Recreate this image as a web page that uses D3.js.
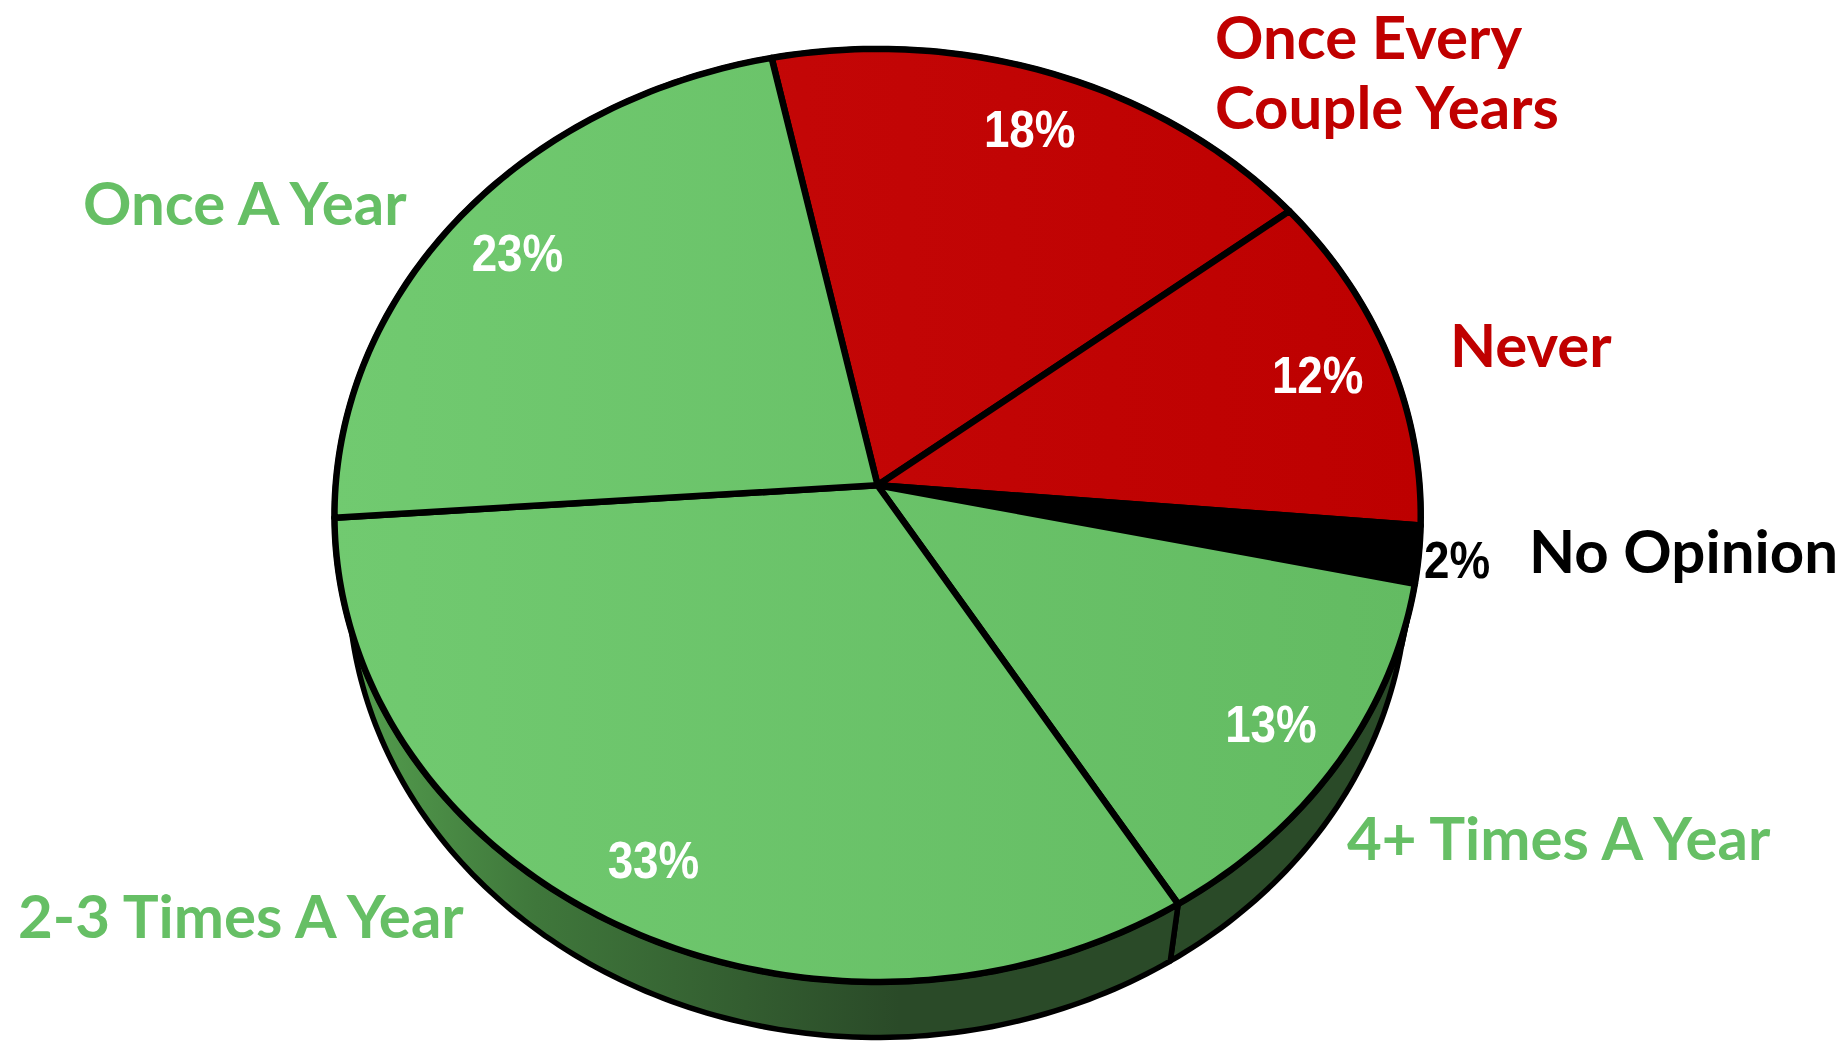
<!DOCTYPE html>
<html>
<head>
<meta charset="utf-8">
<script src="https://cdn.jsdelivr.net/npm/d3@7"></script>
<style>
  html, body { margin: 0; padding: 0; background: #fff; }
  svg { display: block; }
  .cat { font-family: Lato, "Open Sans", sans-serif; font-weight: 700; font-size: 60px; }
  .pct { font-family: "Liberation Sans", Arial, sans-serif; font-weight: 700; font-size: 52px; }
</style>
</head>
<body>
<svg id="svg" width="1847" height="1042"></svg>
<script>
// survey answers, clockwise from the top
const categories = ["Once Every Couple Years", "Never", "No Opinion", "4+ Times A Year", "2-3 Times A Year", "Once A Year"]
const values = [18, 12, 2, 13, 33, 23]
const groups = ["red", "red", "black", "green", "green", "green"]

// label text lines, same order as categories
const labelLines = [["Once Every", "Couple Years"], ["Never"], ["No Opinion"], ["4+ Times A Year"], ["2-3 Times A Year"], ["Once A Year"]]
// where the category names sit (start anchor, first baseline)
const labelAnchors = [[1215, 59], [1450, 367], [1529, 573], [1347, 860], [18, 938], [83, 225]]

const svg = d3.select("#svg")

// 3d pie geometry
const cx = 877.6, cy = 485.3      // apex of top face
const R = 542                      // radius of disk
const tilt = 31 * Math.PI / 180    // disk tilt
const depth = 4323                 // camera distance
const thick = 128                  // disk thickness
const start = -12 * Math.PI / 180

function project(theta, r, h) {
  const phi = Math.PI / 2 - theta
  const X = r * Math.cos(phi)
  const Y = r * Math.sin(phi) * Math.cos(tilt) - h * Math.sin(tilt)
  const Z = r * Math.sin(phi) * Math.sin(tilt) + h * Math.cos(tilt)
  const f = depth / (depth + Z)
  return [cx + X * f, cy - Y * f]
}

function arcPoints(a0, a1, h) {
  const n = Math.max(8, Math.ceil(Math.abs(a1 - a0) * 60))
  return d3.range(n + 1).map(i => project(a0 + (a1 - a0) * i / n, R, h))
}

const line = d3.line()

const pie = d3.pie().sort(null).startAngle(start).endAngle(start + 2 * Math.PI)
const arcs = pie(values)

const topColor = { green: "url(#gTop)", red: "url(#rTop)", black: "#000" }
const sideColor = { green: "url(#gSide)", red: "#6e0000", black: "#000" }

const defs = svg.append("defs")
function grad(id, x1, x2, stops) {
  const g = defs.append("linearGradient").attr("id", id)
    .attr("gradientUnits", "userSpaceOnUse")
    .attr("x1", x1).attr("x2", x2).attr("y1", 0).attr("y2", 0)
  stops.forEach(s => g.append("stop").attr("offset", s[0]).attr("stop-color", s[1]))
}
grad("gTop", 330, 1420, [[0, "#71ca70"], [1, "#63bb62"]])
grad("rTop", 700, 1420, [[0, "#c40707"], [1, "#bd0000"]])
grad("gSide", 340, 900, [[0, "#55a04f"], [0.35, "#3f773b"], [1, "#2a4a28"]])

const g = svg.append("g")

// outer walls
g.append("g").selectAll("path")
  .data(arcs)
  .join("path")
    .attr("d", d => {
      const pts = arcPoints(d.startAngle, d.endAngle, 0)
        .concat(arcPoints(d.endAngle, d.startAngle, thick))
      return line(pts) + "Z"
    })
    .attr("fill", (d, i) => sideColor[groups[i]])
    .attr("stroke", "#000")
    .attr("stroke-width", 5.5)
    .attr("stroke-linejoin", "round")

// top face
g.append("g").selectAll("path")
  .data(arcs)
  .join("path")
    .attr("d", d => line([[cx, cy]].concat(arcPoints(d.startAngle, d.endAngle, 0))) + "Z")
    .attr("fill", (d, i) => topColor[groups[i]])
    .attr("stroke", "#000")
    .attr("stroke-width", 6.5)
    .attr("stroke-linejoin", "round")

// value labels
g.append("g").selectAll("text")
  .data(arcs)
  .join("text")
    .attr("class", "pct")
    .attr("transform", d => {
      const small = d.data < 5
      const p = project((d.startAngle + d.endAngle) / 2, R * (small ? 1.07 : 0.86), 0)
      return `translate(${p[0]},${p[1]}) scale(0.88,1)`
    })
    .attr("text-anchor", "middle")
    .attr("dy", "0.36em")
    .attr("fill", d => d.data < 5 ? "#000" : "#fff")
    .text(d => d.data + "%")

// category labels
const catColor = { green: "#66bf65", red: "#c00000", black: "#000" }
const cat = g.append("g").selectAll("text")
  .data(categories)
  .join("text")
    .attr("class", "cat")
    .attr("x", (d, i) => labelAnchors[i][0])
    .attr("y", (d, i) => labelAnchors[i][1])
    .attr("fill", (d, i) => catColor[groups[i]])

cat.selectAll("tspan")
  .data((d, i) => labelLines[i].map(t => ({ t, x: labelAnchors[i][0] })))
  .join("tspan")
    .attr("x", d => d.x)
    .attr("dy", (d, j) => j ? 70 : 0)
    .text(d => d.t)
</script>
</body>
</html>
